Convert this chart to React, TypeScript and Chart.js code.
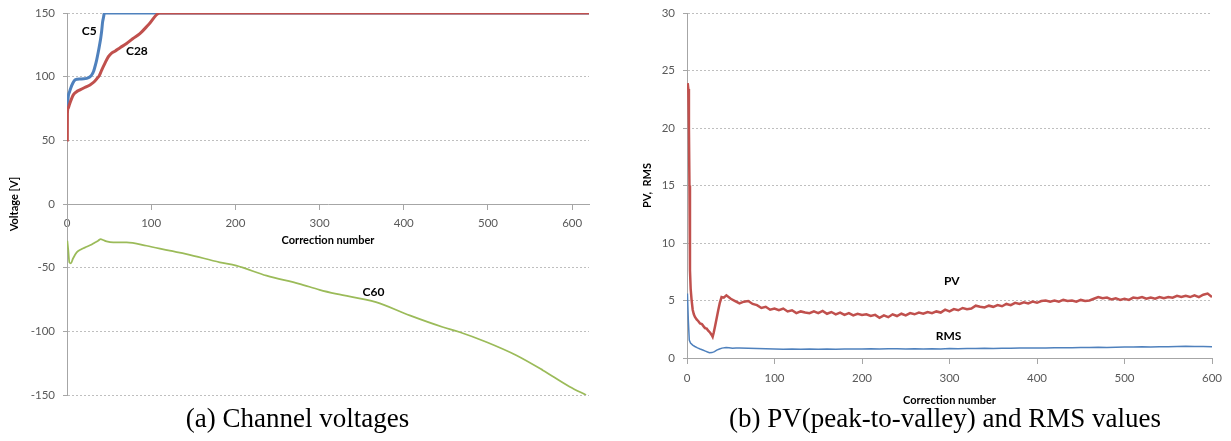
import React, { useEffect, useRef } from "react";
import { Chart, registerables } from "chart.js";

Chart.register(...registerables);

// ---------- (a) Channel voltages ----------
const c5X = [0.4, 1.5, 3, 4.4, 7, 9.5, 12, 15.4, 20, 23.4, 27, 29.3, 31.5, 33.2, 35.2, 37.2, 38.7, 40, 41.2, 42.3, 43.5, 44.3, 620];
const c5Y = [72.7, 84.4, 88, 90.9, 95, 97.4, 98, 98.2, 98.3, 98.7, 99.8, 101.3, 104, 107.8, 113, 119.5, 125, 130, 136, 143, 147, 150, 150];

const c28X = [0.4, 0.5, 1.2, 2.8, 5, 7.5, 11, 15.4, 21, 27.3, 32, 35.2, 38.5, 41.2, 45, 49, 53, 57, 63, 70.8, 78, 86.6, 97, 110, 620];
const c28Y = [49, 71, 75, 77.9, 82, 85.7, 88, 89.6, 91.5, 93.5, 95.8, 98.2, 101, 105.2, 110.5, 115.6, 118.5, 120, 122.8, 126, 129.8, 133.8, 141, 150, 150];

const c60X = [0.4, 1.5, 2.8, 4.7, 7, 11.5, 17, 23.4, 28, 33.2, 37, 40, 43, 47, 55, 70.8, 94.5, 122, 142, 181.5, 201, 237, 276, 300, 320, 367, 407, 446, 466, 498, 533.5, 565, 597, 616.5];
const c60Y = [-28.9, -36, -45.8, -46.6, -43, -38, -35.5, -33.6, -32.2, -30.2, -28.8, -27.6, -28.3, -29.4, -30.2, -30.2, -32.8, -36.7, -39.3, -45.8, -48.4, -56.3, -62.7, -67.4, -70.6, -77.1, -87.5, -96.6, -100.5, -108.4, -118.8, -130.5, -143.5, -150];

const leftLabelText = ["C5", "C28", "C60"];
const leftLabelX = [26.5, 83, 364];
const leftLabelY = [135.8, 120, -69.3];

const leftYTicks = [-150, -100, -50, 0, 50, 100, 150];

// ---------- (b) PV and RMS ----------
const pvEarlyX = [0.8, 1.5, 2.2, 2.8, 3.4, 4.2, 5.3, 6.5, 7.8, 9.1, 11, 13, 14.9, 17, 19, 20.6, 22.5, 24.5, 26.5, 28.2, 29.3, 30.5, 31.9, 33.5, 35.7, 37.5, 39.5, 42];
const pvEarlyY = [23.9, 23.4, 20, 15, 7.6, 6.0, 5.0, 4.2, 3.8, 3.57, 3.35, 3.2, 3.0, 2.95, 2.75, 2.6, 2.55, 2.35, 2.2, 2.0, 1.84, 2.2, 2.7, 3.3, 4.15, 4.8, 5.3, 5.25];
// PV sampled every 5 corrections from 45 to 600
const pvStepStart = 45;
const pvStep = 5;
const pvStepY = [
  5.45, 5.15, 4.95, 4.75, 4.9, 4.95, 4.7, 4.6, 4.35, 4.45,
  4.2, 4.3, 4.15, 4.3, 4.05, 4.15, 3.9, 4.05, 3.95, 3.9,
  4.05, 3.9, 4.1, 3.85, 4.0, 3.8, 3.95, 3.75, 3.9, 3.7,
  3.85, 3.75, 3.8, 3.65, 3.75, 3.5, 3.7, 3.55, 3.8, 3.65,
  3.85, 3.7, 3.9, 3.8, 3.95, 3.85, 4.0, 3.9, 4.05, 3.95,
  4.2, 4.05, 4.25, 4.15, 4.35, 4.25, 4.3, 4.55, 4.45, 4.4,
  4.55, 4.45, 4.6, 4.5, 4.7, 4.6, 4.8, 4.7, 4.85, 4.75,
  4.9, 4.8, 4.95, 5.0, 4.9, 5.0, 4.9, 5.05, 4.95, 5.0,
  4.9, 5.05, 4.95, 5.0, 5.15, 5.3, 5.2, 5.25, 5.1, 5.2,
  5.05, 5.15, 5.05, 5.25, 5.2, 5.3, 5.15, 5.25, 5.15, 5.3,
  5.2, 5.3, 5.25, 5.4, 5.3, 5.4, 5.3, 5.45, 5.3, 5.5,
  5.6, 5.3,
];

const rmsEarlyX = [0.5, 1.5, 2.6, 4, 6.5, 9, 12, 15, 18, 21, 23.5, 25.7, 28.5, 31.4, 34, 37.1, 40, 44.7, 48, 52, 56];
const rmsEarlyY = [5.6, 3.3, 1.56, 1.3, 1.12, 1.0, 0.88, 0.78, 0.69, 0.6, 0.52, 0.46, 0.47, 0.55, 0.68, 0.78, 0.86, 0.92, 0.9, 0.84, 0.86];
// RMS sampled every 10 corrections from 60 to 600
const rmsStepStart = 60;
const rmsStep = 10;
const rmsStepY = [
  0.86, 0.84, 0.83, 0.8, 0.78, 0.77, 0.79, 0.77, 0.78, 0.76,
  0.79, 0.77, 0.78, 0.79, 0.78, 0.8, 0.79, 0.8, 0.81, 0.79,
  0.8, 0.78, 0.8, 0.79, 0.82, 0.8, 0.83, 0.82, 0.84, 0.83,
  0.85, 0.84, 0.87, 0.86, 0.88, 0.87, 0.89, 0.9, 0.89, 0.91,
  0.92, 0.93, 0.92, 0.94, 0.96, 0.95, 0.97, 0.96, 0.98, 0.97,
  1.0, 1.02, 0.99, 1.0, 0.98,
];

const rightLabelText = ["PV", "RMS"];
const rightLabelX = [302.5, 299];
const rightLabelY = [6.65, 1.92];

// ---------- helpers ----------
const pairs = (xs: number[], ys: number[]) => ys.map((y, i) => ({ x: xs[i], y }));
const stepped = (start: number, step: number, ys: number[]) => ys.map((y, i) => ({ x: start + i * step, y }));

const BLUE = "#4F81BD";
const RED = "#C0504D";
const GREEN = "#9BBB59";
const TICK_COLOR = "#595959";
const AXIS_COLOR = "#A6A6A6";
const GRID_COLOR = "#BFBFBF";
const FONT = "Lato";

const textPlugin = {
  id: "seriesText",
  afterDatasetsDraw(chart: any, _args: any, opts: any) {
    const { ctx, scales } = chart;
    ctx.save();
    ctx.font = `bold 12px ${FONT}`;
    ctx.fillStyle = "#000";
    ctx.textAlign = "center";
    ctx.textBaseline = "middle";
    const texts: string[] = opts.texts || [];
    texts.forEach((t, i) => {
      ctx.fillText(t, scales.x.getPixelForValue(opts.xs[i]), scales.y.getPixelForValue(opts.ys[i]));
    });
    ctx.restore();
  },
};

function makeScales(cfg: {
  xMax: number;
  yMin: number;
  yMax: number;
  yStep: number;
  yTitle: string;
  yTitlePad: number;
  xTickPad: number;
  xTitlePad: number;
}) {
  return {
    x: {
      type: "linear",
      min: 0,
      max: cfg.xMax,
      position: { y: 0 },
      ticks: {
        stepSize: 100,
        includeBounds: false,
        color: TICK_COLOR,
        font: { family: FONT, size: 11.5 },
        padding: cfg.xTickPad,
        maxRotation: 0,
        autoSkip: false,
      },
      grid: {
        drawOnChartArea: false,
        drawTicks: true,
        tickLength: 5,
        color: AXIS_COLOR,
        tickColor: AXIS_COLOR,
      },
      border: { color: AXIS_COLOR, width: 1 },
      title: {
        display: true,
        text: "Correction number",
        color: "#000",
        font: { family: FONT, size: 11, weight: "bold" },
        padding: { top: cfg.xTitlePad, bottom: 0 },
      },
    },
    y: {
      type: "linear",
      min: cfg.yMin,
      max: cfg.yMax,
      position: "left",
      ticks: {
        stepSize: cfg.yStep,
        color: TICK_COLOR,
        font: { family: FONT, size: 11.5 },
        padding: 8,
      },
      grid: {
        color: (c: any) => (c.tick && c.tick.value === 0 ? "rgba(0,0,0,0)" : GRID_COLOR),
        tickColor: AXIS_COLOR,
        tickLength: 4,
        tickBorderDash: [],
      },
      border: { color: AXIS_COLOR, width: 1, dash: [2, 2] },
      title: {
        display: true,
        text: cfg.yTitle,
        color: "#000",
        font: { family: FONT, size: 11, weight: "bold" },
        padding: { top: cfg.yTitlePad, bottom: 0 },
      },
      afterFit: (s: any) => {
        s.width = 67;
      },
    },
  };
}

export default function App() {
  const leftRef = useRef<HTMLCanvasElement>(null);
  const rightRef = useRef<HTMLCanvasElement>(null);

  useEffect(() => {
    const left = new Chart(leftRef.current as HTMLCanvasElement, {
      type: "line",
      data: {
        datasets: [
          {
            data: pairs(c28X, c28Y),
            borderColor: RED,
            borderWidth: 3,
            pointRadius: 0,
            cubicInterpolationMode: "monotone",
          },
          {
            data: pairs(c5X, c5Y),
            borderColor: BLUE,
            borderWidth: 3,
            pointRadius: 0,
            cubicInterpolationMode: "monotone",
          },
          {
            data: pairs(c60X, c60Y),
            borderColor: GREEN,
            borderWidth: 1.75,
            pointRadius: 0,
            cubicInterpolationMode: "monotone",
          },
        ],
      },
      options: {
        responsive: false,
        animation: false,
        layout: { padding: { left: 0, right: 21, top: 15, bottom: 17 } },
        plugins: {
          legend: { display: false },
          tooltip: { enabled: false },
          seriesText: { texts: leftLabelText, xs: leftLabelX, ys: leftLabelY },
        } as any,
        scales: makeScales({
          xMax: 620,
          yMin: leftYTicks[0],
          yMax: leftYTicks[leftYTicks.length - 1],
          yStep: 50,
          yTitle: "Voltage [V]",
          yTitlePad: 8,
          xTickPad: 7,
          xTitlePad: -3,
        }) as any,
      },
      plugins: [textPlugin as any],
    });

    const right = new Chart(rightRef.current as HTMLCanvasElement, {
      type: "line",
      data: {
        datasets: [
          {
            data: pairs(pvEarlyX, pvEarlyY).concat(stepped(pvStepStart, pvStep, pvStepY)),
            borderColor: RED,
            borderWidth: 2.5,
            pointRadius: 0,
            tension: 0,
          },
          {
            data: pairs(rmsEarlyX, rmsEarlyY).concat(stepped(rmsStepStart, rmsStep, rmsStepY)),
            borderColor: BLUE,
            borderWidth: 1.5,
            pointRadius: 0,
            tension: 0,
          },
        ],
      },
      options: {
        responsive: false,
        animation: false,
        layout: { padding: { left: 0, right: 19, top: 15, bottom: 54 } },
        plugins: {
          legend: { display: false },
          tooltip: { enabled: false },
          seriesText: { texts: rightLabelText, xs: rightLabelX, ys: rightLabelY },
        } as any,
        scales: makeScales({
          xMax: 600,
          yMin: 0,
          yMax: 30,
          yStep: 5,
          yTitle: "PV,  RMS",
          yTitlePad: 21,
          xTickPad: 8,
          xTitlePad: 1,
        }) as any,
      },
      plugins: [textPlugin as any],
    });

    return () => {
      left.destroy();
      right.destroy();
    };
  }, []);

  const captionStyle: React.CSSProperties = {
    position: "absolute",
    top: 405,
    fontFamily: "'Liberation Serif', 'Times New Roman', serif",
    fontSize: 27,
    lineHeight: "27px",
    color: "#000",
    whiteSpace: "nowrap",
    transform: "translateX(-50%)",
  };

  return (
    <div style={{ position: "relative", margin: -8, width: 1231, height: 441, overflow: "hidden" }}>
      <canvas
        ref={leftRef}
        width={610}
        height={414}
        style={{ position: "absolute", left: 0, top: -2, width: 610, height: 414 }}
      />
      <canvas
        ref={rightRef}
        width={611}
        height={414}
        style={{ position: "absolute", left: 620, top: -2, width: 611, height: 414 }}
      />
      <div style={{ ...captionStyle, left: 297.5 }}>(a) Channel voltages</div>
      <div style={{ ...captionStyle, left: 945 }}>(b) PV(peak-to-valley) and RMS values</div>
    </div>
  );
}
